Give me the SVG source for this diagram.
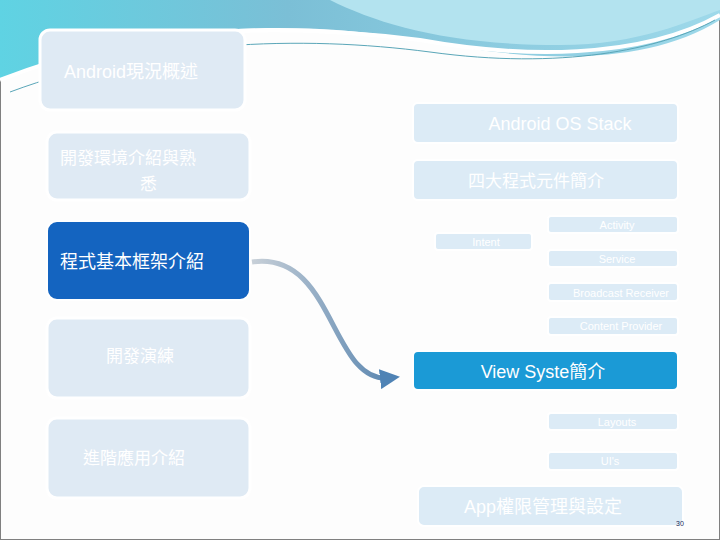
<svg xmlns="http://www.w3.org/2000/svg" width="720" height="540" viewBox="0 0 720 540">
<defs>
<style>
.lb{fill:#dfeaf4;stroke:#fff;stroke-width:3}
.sb{fill:#dcebf6;stroke:#fff;stroke-width:2}
.t{font-family:"Liberation Sans","Noto Sans CJK TC",sans-serif;fill:#fff}
.c{font-family:"Noto Sans CJK TC",sans-serif;fill:#fff}
</style>
<linearGradient id="sky" x1="0" y1="0" x2="1" y2="0">
<stop offset="0" stop-color="#5fd3e3"/><stop offset="0.4" stop-color="#7bbfd6"/><stop offset="1" stop-color="#9ed9ea"/>
</linearGradient>
<linearGradient id="arr" x1="0" y1="0" x2="1" y2="0">
<stop offset="0" stop-color="#c8d0d8"/><stop offset="1" stop-color="#5a86b0"/>
</linearGradient>
<marker id="ah" markerWidth="4" markerHeight="4" refX="2" refY="2" orient="auto"><path d="M0,0 L4,2 L0,4 Z" fill="#4f83b5"/></marker>
</defs>
<rect x="0" y="0" width="720" height="540" fill="#fdfdfd" stroke="#808080" stroke-width="2"/>
<path d="M0,0 H720 V20 C640,70 520,60 420,40 C300,20 150,20 0,80 Z" fill="url(#sky)"/>
<path d="M330,0 C380,25 450,45 560,45 C640,45 690,20 720,10 V0 Z" fill="#b3e3ef"/>
<path d="M0,80 C150,20 300,25 420,40 C520,58 640,60 720,15" fill="none" stroke="#fff" stroke-width="4"/>
<path d="M10,92 C150,40 300,35 430,52 C560,70 660,50 715,20" fill="none" stroke="#5aa6b8" stroke-width="1"/>
<g id="n1"><rect class="lb" x="40" y="30" width="205" height="80" rx="10"/><text class="t" x="64" y="78" font-size="18">Android現況概述</text></g>
<g id="n2"><rect class="lb" x="47" y="132" width="203" height="68" rx="10"/><text class="c" x="60" y="164" font-size="17">開發環境介紹與熟</text><text class="c" x="140" y="190" font-size="17">悉</text></g>
<g id="n3"><rect x="47" y="221" width="203" height="79" rx="10" fill="#1464c0" stroke="#fff" stroke-width="2"/><text class="c" x="60" y="268" font-size="18">程式基本框架介紹</text></g>
<g id="n4"><rect class="lb" x="47" y="318" width="203" height="80" rx="10"/><text class="c" x="106" y="362" font-size="17">開發演練</text></g>
<g id="n5"><rect class="lb" x="47" y="418" width="203" height="80" rx="10"/><text class="c" x="83" y="464" font-size="17">進階應用介紹</text></g>
<g id="r1"><rect class="sb" x="413" y="103" width="265" height="40" rx="5"/><text class="t" x="560" y="130" font-size="18" text-anchor="middle">Android OS Stack</text></g>
<g id="r2"><rect class="sb" x="413" y="160" width="265" height="40" rx="5"/><text class="c" x="536" y="187" font-size="17" text-anchor="middle">四大程式元件簡介</text></g>
<g id="r3"><rect class="sb" x="548" y="216" width="130" height="17" rx="3"/><text class="t" x="617" y="229" font-size="11" text-anchor="middle">Activity</text></g>
<g id="r4"><rect class="sb" x="435" y="233" width="97" height="17" rx="3"/><text class="t" x="486" y="246" font-size="11" text-anchor="middle">Intent</text></g>
<g id="r5"><rect class="sb" x="548" y="250" width="130" height="17" rx="3"/><text class="t" x="617" y="263" font-size="11" text-anchor="middle">Service</text></g>
<g id="r6"><rect class="sb" x="548" y="283" width="130" height="18" rx="3"/><text class="t" x="621" y="297" font-size="11" text-anchor="middle">Broadcast Receiver</text></g>
<g id="r7"><rect class="sb" x="548" y="317" width="130" height="18" rx="3"/><text class="t" x="621" y="330" font-size="11" text-anchor="middle">Content Provider</text></g>
<g id="r8"><rect x="413" y="351" width="265" height="39" rx="5" fill="#1b9ad6" stroke="#fff" stroke-width="2"/><text class="t" x="543" y="378" font-size="18" text-anchor="middle">View Syste簡介</text></g>
<g id="r9"><rect class="sb" x="548" y="413" width="130" height="17" rx="3"/><text class="t" x="617" y="426" font-size="11" text-anchor="middle">Layouts</text></g>
<g id="r10"><rect class="sb" x="548" y="452" width="130" height="18" rx="3"/><text class="t" x="610" y="465" font-size="11" text-anchor="middle">UI's</text></g>
<g id="r11"><rect class="sb" x="418" y="486" width="265" height="40" rx="6"/><text class="t" x="543" y="513" font-size="18" text-anchor="middle">App權限管理與設定</text></g>
<text x="676" y="526" font-family="Liberation Sans,sans-serif" font-size="7" fill="#1a2a5a">30</text>
<g id="connectors">
<path d="M252,262 C335,250 330,385 390,378" fill="none" stroke="url(#arr)" stroke-width="5" marker-end="url(#ah)"/>
</g>
</svg>
